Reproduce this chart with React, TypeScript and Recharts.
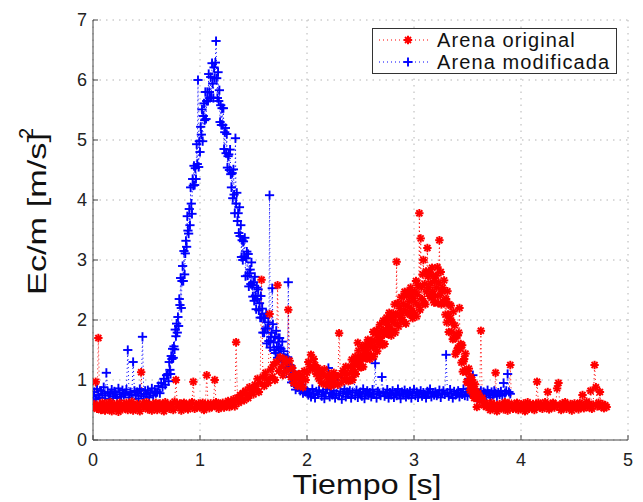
import { LineChart, Line, XAxis, YAxis, CartesianGrid, Legend } from 'recharts'

const FONT = '"Liberation Sans", Arial, Helvetica, sans-serif'

const xTicks = [0, 1, 2, 3, 4, 5]
const yTicks = [0, 1, 2, 3, 4, 5, 6, 7]

// Ec/m [m/s]^2, arena original (rojo): 0 - 2.3875 s, cada 12.5 ms
const originalInicio = [
  0.55, 0.60, 0.97, 0.52, 1.70, 0.58, 0.50, 0.62,
  0.54, 0.49, 0.61, 0.57, 0.52, 0.63, 0.48, 0.56,
  0.60, 0.53, 0.58, 0.47, 0.62, 0.55, 0.51, 0.59,
  0.56, 0.62, 0.50, 0.57, 0.53, 0.64, 0.49, 0.58,
  0.52, 0.60, 0.55, 0.48, 1.13, 0.61, 0.54, 0.57,
  0.63, 0.51, 0.58, 0.55, 0.49, 0.60, 0.56, 0.62,
  0.50, 0.57, 0.61, 0.54, 0.59, 0.48, 0.63, 0.55,
  0.58, 0.52, 0.60, 0.56, 0.50, 0.64, 1.00, 0.59,
  0.55, 0.61, 0.49, 0.57, 0.62, 0.53, 0.58, 0.51,
  0.60, 0.56, 0.63, 0.97, 0.52, 0.59, 0.55, 0.61,
  0.54, 0.58, 0.62, 0.50, 0.57, 1.08, 0.60, 0.53,
  0.61, 0.55, 0.59, 1.00, 0.63, 0.56, 0.52, 0.60,
  0.57, 0.62, 0.54, 0.60, 0.58, 0.65, 0.55, 0.61,
  0.60, 0.68, 0.56, 1.63, 0.70, 0.62, 0.75, 0.66,
  0.78, 0.66, 0.82, 0.74, 0.70, 0.88, 0.79, 0.84,
  0.76, 0.92, 0.85, 1.02, 0.80, 0.95, 2.67, 1.05,
  0.90, 1.12, 1.02, 0.95, 2.10, 1.18, 1.05, 1.25,
  1.00, 1.30, 2.58, 1.15, 1.38, 1.22, 1.08, 1.35,
  1.28, 1.15, 2.17, 1.32, 1.05, 1.20, 0.95, 1.10,
  1.02, 0.90, 1.10, 0.95, 1.05, 0.88, 1.15, 1.00,
  1.12, 1.30, 1.22, 1.42, 1.18, 1.35, 1.25, 1.10,
  1.20, 1.02, 1.15, 0.95, 1.08, 1.18, 0.92, 1.05,
  0.98, 1.10, 0.90, 1.02, 1.12, 0.94, 1.05, 0.92,
  1.78, 1.08, 0.96, 1.15, 1.02, 1.22, 1.10, 0.98,
]

// arena original, colina: 2.4 - 3.59375 s, cada 6.25 ms
const originalColina = [
  1.00, 1.22, 1.12, 1.34, 1.00, 1.22, 1.33, 1.13, 1.39, 1.10, 1.27, 1.34, 1.62, 1.49, 1.30, 1.22,
  1.41, 1.21, 1.56, 1.36, 1.22, 1.53, 1.43, 1.59, 1.36, 1.49, 1.36, 1.67, 1.44, 1.60, 1.35, 1.57,
  1.41, 1.66, 1.55, 1.80, 1.39, 1.64, 1.77, 1.54, 1.83, 1.48, 1.68, 1.76, 1.63, 1.92, 1.70, 1.60,
  1.82, 1.58, 1.99, 1.76, 1.60, 1.97, 1.84, 2.04, 1.77, 1.92, 1.76, 2.12, 1.86, 2.04, 1.74, 2.00,
  1.82, 2.11, 1.96, 2.26, 1.79, 2.08, 2.97, 1.94, 2.28, 1.89, 2.10, 2.19, 2.04, 2.38, 2.11, 2.00,
  2.27, 1.96, 2.47, 2.15, 1.94, 2.40, 2.23, 2.47, 2.11, 2.31, 2.09, 2.54, 2.19, 2.43, 2.03, 2.36,
  2.12, 2.48, 2.29, 2.65, 2.06, 2.42, 2.58, 2.24, 3.78, 2.17, 3.36, 2.54, 2.35, 2.76, 3.00, 2.28,
  2.60, 2.26, 2.81, 2.47, 3.20, 2.73, 2.54, 2.80, 2.40, 2.61, 2.37, 2.87, 2.48, 2.74, 2.29, 2.65,
  2.40, 2.74, 2.54, 2.88, 2.28, 2.62, 3.33, 2.41, 2.80, 2.26, 2.48, 2.54, 2.30, 2.66, 2.28, 2.09,
  2.35, 1.96, 2.48, 2.09, 1.80, 2.26, 2.03, 2.24, 1.80, 1.96, 1.68, 2.14, 1.70, 1.91, 1.43, 1.74,
  1.49, 1.74, 1.54, 1.79, 2.20, 1.52, 1.60, 1.29, 1.58, 1.14, 1.31, 1.35, 1.16, 1.44, 1.13, 0.97,
  1.15, 0.95, 1.19, 0.98, 0.83, 1.05, 0.91, 1.00, 0.77, 0.86, 0.70, 0.93, 0.70, 0.81, 0.55, 0.71,
]

// arena original: 3.6 - 4.8 s, cada 12.5 ms
const originalFinal = [
  0.78, 0.65, 1.82, 0.70, 0.58, 0.62, 0.55, 0.60,
  0.57, 0.50, 0.62, 0.54, 0.59, 1.12, 0.48, 0.56,
  0.60, 0.53, 0.58, 0.51, 0.63, 0.55, 0.49, 0.61,
  1.25, 0.56, 0.52, 0.60, 0.54, 0.62, 0.50, 0.57,
  0.59, 0.53, 0.61, 0.48, 0.56, 0.63, 0.52, 0.58,
  0.55, 0.60, 0.50, 0.57, 0.97, 0.62, 0.54, 0.59,
  0.52, 0.58, 0.63, 0.56, 0.80, 0.51, 0.60, 0.55,
  0.62, 0.54, 0.59, 0.86, 0.95, 0.57, 0.50, 0.61,
  0.56, 0.63, 0.52, 0.58, 0.55, 0.60, 0.49, 0.57,
  0.61, 0.54, 0.59, 0.51, 0.62, 0.56, 0.75, 0.53,
  0.58, 0.64, 0.55, 0.60, 0.82, 0.52, 0.59, 1.25,
  0.88, 0.56, 0.62, 0.80, 0.55, 0.60, 0.53, 0.58,
  0.55,
]

// Ec/m [m/s]^2, arena modificada (azul): 0 - 0.6875 s, cada 12.5 ms
const modificadaInicio = [
  0.72, 0.80, 0.68, 0.85, 0.75, 0.70, 0.82, 0.77,
  0.88, 0.74, 1.12, 0.80, 0.69, 0.78, 0.84, 0.73,
  0.81, 0.76, 0.70, 0.86, 0.79, 0.72, 0.83, 0.75,
  0.78, 0.84, 1.50, 0.71, 0.80, 0.76, 1.30, 0.82,
  0.74, 0.80, 0.69, 0.85, 0.77, 1.72, 0.73, 0.82,
  0.76, 0.83, 0.71, 0.79, 0.86, 0.74, 0.81, 0.78,
  0.80, 0.90, 0.78, 0.95, 0.88, 1.02, 0.92, 1.08,
]

// arena modificada, pico: 0.7 - 1.89375 s, cada 6.25 ms
const modificadaPico = [
  1.10, 0.98, 1.30, 1.17, 1.10, 1.40, 1.35, 1.52, 1.37, 1.56, 1.51, 1.84, 1.73, 1.94, 1.79, 2.05,
  1.90, 2.35, 2.25, 2.70, 2.20, 2.65, 2.90, 2.65, 3.15, 2.76, 3.11, 3.32, 3.22, 3.73, 3.49, 3.44,
  3.85, 3.58, 4.21, 3.94, 3.77, 4.35, 4.24, 4.57, 4.25, 4.53, 4.35, 4.93, 4.60, 6.00, 4.55, 4.98,
  4.80, 5.22, 5.09, 5.51, 4.98, 5.40, 5.61, 5.33, 5.80, 5.35, 5.65, 5.80, 5.65, 6.10, 5.80, 5.70,
  6.05, 5.71, 6.28, 5.94, 5.70, 6.21, 6.03, 6.29, 6.65, 6.03, 5.70, 6.13, 5.65, 5.83, 5.30, 5.58,
  5.25, 5.53, 5.25, 5.53, 4.85, 5.13, 5.20, 4.78, 5.10, 4.54, 4.73, 4.76, 4.50, 4.84, 4.43, 4.21,
  4.45, 4.03, 4.51, 4.09, 3.78, 5.03, 3.94, 4.12, 3.65, 3.78, 3.45, 3.88, 3.40, 3.58, 3.05, 3.33,
  3.00, 3.31, 3.06, 3.37, 2.73, 3.03, 3.14, 2.74, 3.10, 2.56, 2.78, 2.84, 2.60, 2.96, 2.58, 2.39,
  2.63, 2.32, 2.72, 2.41, 2.18, 2.54, 2.35, 2.51, 2.16, 2.28, 2.04, 2.40, 2.04, 2.19, 1.79, 2.03,
  1.79, 2.04, 1.86, 2.11, 1.61, 1.86, 1.96, 1.65, 4.08, 1.54, 1.72, 1.79, 2.53, 1.93, 1.63, 1.50,
  1.72, 1.45, 1.82, 1.55, 1.37, 1.70, 1.54, 1.70, 1.40, 1.52, 1.31, 1.64, 1.33, 1.48, 1.14, 1.37,
  1.20, 1.36, 1.22, 1.38, 2.63, 1.21, 1.25, 1.05, 1.22, 0.96, 1.06, 1.08, 0.96, 1.14, 0.94, 0.84,
]

// arena modificada: 1.9 - 3.9 s, cada 12.5 ms
const modificadaFinal = [
  0.95, 0.88, 1.00, 0.82, 0.92, 0.78, 0.86, 0.80,
  0.82, 0.75, 0.79, 0.72, 0.85, 0.77, 0.70, 0.81,
  0.76, 0.83, 1.08, 0.73, 0.80, 0.69, 0.78, 0.84,
  1.20, 0.72, 0.79, 0.75, 0.82, 0.70, 0.77, 1.05,
  0.74, 0.81, 0.68, 0.78, 0.85, 0.72, 0.80, 0.76,
  0.82, 0.70, 0.79, 1.10, 0.74, 0.83, 0.71, 0.77,
  0.80, 0.73, 0.85, 0.69, 0.77, 0.82, 0.75, 0.79,
  0.72, 0.84, 0.76, 1.28, 0.70, 0.81, 0.78, 0.74,
  1.05, 0.80, 0.73, 0.77, 0.84, 0.70, 0.79, 0.75,
  0.82, 0.71, 0.78, 0.74, 0.85, 0.76, 0.69, 0.80,
  0.77, 0.83, 0.72, 0.79, 0.75, 0.81, 0.70, 0.78,
  0.84, 0.74, 0.80, 0.71, 0.77, 0.82, 0.73, 0.79,
  0.76, 0.70, 0.81, 0.78, 0.85, 0.72, 0.79, 0.75,
  0.80, 0.74, 0.77, 0.83, 0.71, 0.78, 0.82, 0.76,
  1.42, 0.79, 0.73, 0.84, 0.77, 0.70, 0.81, 0.75,
  0.78, 0.82, 0.72, 0.79, 0.76, 0.85, 0.74, 0.80,
  0.73, 1.02, 0.77, 0.81, 1.08, 0.75, 0.84, 0.70,
  0.79, 0.76, 0.82, 0.72, 0.80, 0.78, 0.74, 0.83,
  0.77, 0.71, 0.80, 0.75, 0.82, 0.78, 0.73, 0.79,
  0.76, 0.81, 0.74, 0.95, 0.78, 0.82, 1.10, 0.80,
  0.77,
]

const RED = '#ff0000'
const BLUE = '#0000ff'

const toPoints = (start: number, step: number, vals: number[]) =>
  vals.map((v, i) => ({ t: Math.round((start + i * step) * 100000) / 100000, v }))

const originalPts = [
  ...toPoints(0, 0.0125, originalInicio),
  ...toPoints(2.4, 0.00625, originalColina),
  ...toPoints(3.6, 0.0125, originalFinal),
]
const modificadaPts = [
  ...toPoints(0, 0.0125, modificadaInicio),
  ...toPoints(0.7, 0.00625, modificadaPico),
  ...toPoints(1.9, 0.0125, modificadaFinal),
]

function Asterisk({ cx, cy, color }: { cx: number; cy: number; color: string }) {
  const r = 4.2
  const d = 3
  return (
    <g stroke={color} strokeWidth={2}>
      <line x1={cx - r} y1={cy} x2={cx + r} y2={cy} />
      <line x1={cx} y1={cy - r} x2={cx} y2={cy + r} />
      <line x1={cx - d} y1={cy - d} x2={cx + d} y2={cy + d} />
      <line x1={cx - d} y1={cy + d} x2={cx + d} y2={cy - d} />
    </g>
  )
}

function Cross({ cx, cy, color }: { cx: number; cy: number; color: string }) {
  const r = 4.6
  return (
    <g stroke={color} strokeWidth={1.9}>
      <line x1={cx - r} y1={cy} x2={cx + r} y2={cy} />
      <line x1={cx} y1={cy - r} x2={cx} y2={cy + r} />
    </g>
  )
}

const legendItems = [
  { name: 'Arena original', color: RED, marker: 'star' },
  { name: 'Arena modificada', color: BLUE, marker: 'cross' },
]

function LegendBox() {
  return (
    <div
      style={{
        border: '1px solid #333',
        background: '#fff',
        boxSizing: 'border-box',
        width: 245,
        height: 46,
        fontFamily: FONT,
        fontSize: 20,
        letterSpacing: 1.1,
        lineHeight: '22px',
        color: '#111',
      }}
    >
      {legendItems.map(item => (
        <div key={item.name} style={{ display: 'flex', alignItems: 'center', height: 22 }}>
          <svg width={64} height={22} style={{ display: 'block' }}>
            <line x1={6} y1={11} x2={56} y2={11} stroke={item.color} strokeWidth={1} strokeDasharray="1 3" />
            {item.marker === 'star'
              ? <Asterisk cx={35} cy={11} color={item.color} />
              : <Cross cx={35} cy={11} color={item.color} />}
          </svg>
          <span style={{ whiteSpace: 'nowrap' }}>{item.name}</span>
        </div>
      ))}
    </div>
  )
}

const tickStyle = { fill: '#222', fontSize: 18, fontFamily: FONT }

export default function App() {
  return (
    <div style={{ position: 'absolute', left: 0, top: 0, background: '#fff' }}>
      <LineChart width={643} height={502} margin={{ top: 20, right: 15, bottom: 0, left: 0 }}>
        <CartesianGrid stroke="#b4b4b4" strokeDasharray="1.5 5" />
        <XAxis
          dataKey="t"
          type="number"
          domain={[0, 5]}
          ticks={xTicks}
          allowDataOverflow
          height={62}
          stroke="#444"
          tickSize={-5}
          tickMargin={18}
          tick={tickStyle}
          label={() => (
            <text
              x={367}
              y={494}
              textAnchor="middle"
              fontFamily={FONT}
              fontSize={28}
              fill="#111"
              textLength={149}
              lengthAdjust="spacingAndGlyphs"
            >
              Tiempo [s]
            </text>
          )}
        />
        <XAxis
          xAxisId="top"
          orientation="top"
          type="number"
          domain={[0, 5]}
          ticks={xTicks}
          allowDataOverflow
          height={0}
          stroke="#444"
          tickSize={-5}
          tick={() => <g />}
        />
        <YAxis
          type="number"
          domain={[0, 7]}
          ticks={yTicks}
          allowDataOverflow
          width={93}
          stroke="#444"
          tickSize={-5}
          tickMargin={11}
          tick={tickStyle}
          label={() => (
            <g fontFamily={FONT} fill="#111">
              <text
                x={46}
                y={295}
                transform="rotate(-90 46 295)"
                fontSize={26}
                textLength={162}
                lengthAdjust="spacingAndGlyphs"
              >
                Ec/m [m/s]
              </text>
              <text x={33} y={139} transform="rotate(-90 33 139)" fontSize={20}>
                2
              </text>
            </g>
          )}
        />
        <YAxis
          yAxisId="right"
          orientation="right"
          type="number"
          domain={[0, 7]}
          ticks={yTicks}
          allowDataOverflow
          width={0}
          stroke="#444"
          tickSize={-5}
          tick={() => <g />}
        />
        <Line
          data={modificadaPts}
          dataKey="v"
          name="Arena modificada"
          type="linear"
          stroke={BLUE}
          strokeWidth={1}
          strokeDasharray="1 3"
          dot={(p: any) => <Cross key={`b-${p.index}`} cx={p.cx} cy={p.cy} color={BLUE} />}
          activeDot={false}
          isAnimationActive={false}
        />
        <Line
          data={originalPts}
          dataKey="v"
          name="Arena original"
          type="linear"
          stroke={RED}
          strokeWidth={1}
          strokeDasharray="1 3"
          dot={(p: any) => <Asterisk key={`r-${p.index}`} cx={p.cx} cy={p.cy} color={RED} />}
          activeDot={false}
          isAnimationActive={false}
        />
        <Legend
          layout="horizontal"
          verticalAlign="middle"
          align="center"
          content={() => <LegendBox />}
          wrapperStyle={{ left: 372, top: 28, width: 245, height: 46 }}
        />
      </LineChart>
    </div>
  )
}
